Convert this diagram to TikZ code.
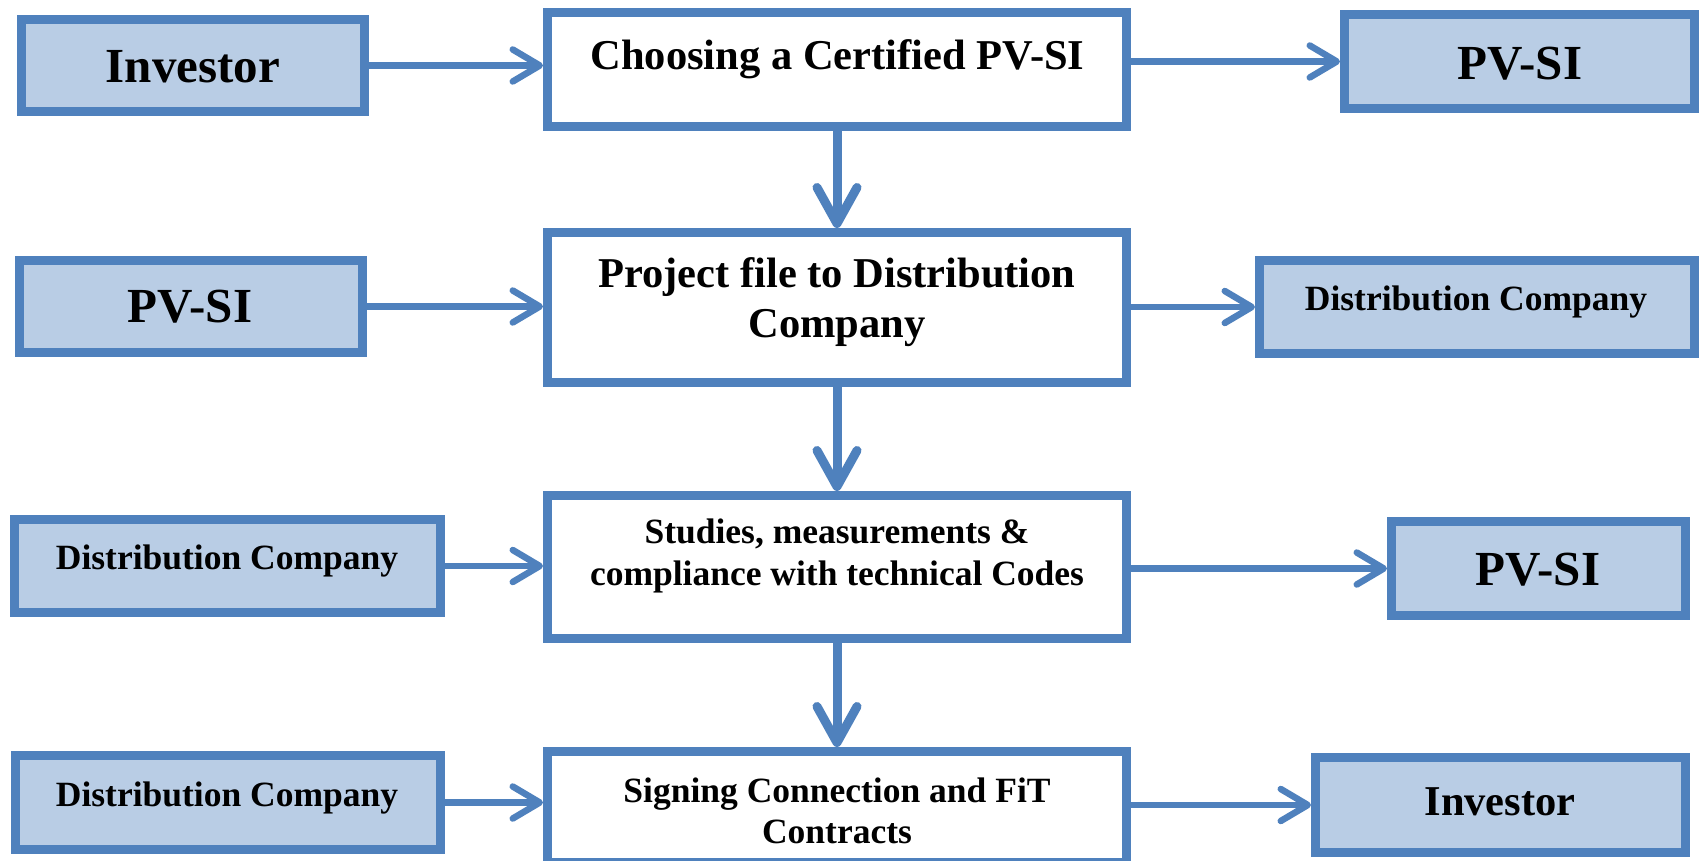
\documentclass[tikz,border=0pt]{standalone}
\usepackage{fontspec}
\setmainfont{Liberation Serif}
\usetikzlibrary{arrows.meta}
\definecolor{bord}{HTML}{4F81BD}
\definecolor{lfill}{HTML}{B9CDE5}
\begin{document}
\begin{tikzpicture}[x=1pt,y=-1pt,
  sidebox/.style={draw=bord, line width=9pt, fill=lfill, rectangle, inner sep=0pt, outer sep=4.5pt},
  midbox/.style={draw=bord, line width=9pt, fill=white, rectangle, inner sep=0pt, outer sep=4.5pt},
  bigtxt/.style={font=\fontsize{49}{55}\selectfont\bfseries, inner sep=0pt, anchor=base},
  medtxt/.style={font=\fontsize{42.5}{50}\selectfont\bfseries, inner sep=0pt, anchor=base, align=center},
  smltxt/.style={font=\fontsize{35.5}{42}\selectfont\bfseries, inner sep=0pt, anchor=base, align=center},
  harrow/.style={draw=bord, line width=6.5pt, -{Straight Barb[length=27pt, width=32pt, line cap=round, line join=round]}},
  varrow/.style={draw=bord, line width=9pt, -{Straight Barb[length=36pt, width=40pt, line cap=round, line join=round]}}
]
\useasboundingbox (0,0) rectangle (1700,861);
\fill[white] (0,0) rectangle (1700,861);

% left boxes
\node[sidebox, minimum width=343, minimum height=92] (invL) at (193,65.5) {};
\node[sidebox, minimum width=343, minimum height=92] (pvL) at (191,306.5) {};
\node[sidebox, minimum width=426, minimum height=93] (distL3) at (227.5,566) {};
\node[sidebox, minimum width=424.5, minimum height=94] (distL4) at (228,802.5) {};

% central boxes
\node[midbox, minimum width=579, minimum height=114] (c1) at (837,69.5) {};
\node[midbox, minimum width=579, minimum height=150] (c2) at (837,307.5) {};
\node[midbox, minimum width=579, minimum height=143] (c3) at (837,567) {};
\node[midbox, minimum width=579, minimum height=110.5] (c4) at (837,806.75) {};

% right boxes
\node[sidebox, minimum width=350, minimum height=94] (pvR1) at (1519.5,61.5) {};
\node[sidebox, minimum width=435, minimum height=93] (distR2) at (1477,307) {};
\node[sidebox, minimum width=294, minimum height=94] (pvR3) at (1538.5,568.5) {};
\node[sidebox, minimum width=370, minimum height=95] (invR4) at (1500.5,805) {};

% texts (base anchor = baseline of the last line)
\node[bigtxt] (invLt) at (193,83) {Investor};
\node[bigtxt] (pvLt) at (190,322) {PV-SI};
\node[smltxt] (distL3t) at (227,569) {Distribution Company};
\node[smltxt] (distL4t) at (227,806) {Distribution Company};

\node[medtxt] (c1t) at (837.5,70) {Choosing a Certified PV-SI};
\node[medtxt] (c2t) at (837,337) {Project file to Distribution\\Company};
\node[smltxt] (c3t) at (837,585) {Studies, measurements \&\\compliance with technical Codes};
\node[smltxt, font=\fontsize{35.5}{41}\selectfont\bfseries] (c4t) at (837,843) {Signing Connection and FiT\\Contracts};

\node[bigtxt] (pvR1t) at (1520,80) {PV-SI};
\node[smltxt] (distR2t) at (1476,310) {Distribution Company};
\node[bigtxt] (pvR3t) at (1538,585) {PV-SI};
\node[medtxt] (invR4t) at (1500,815) {Investor};

% horizontal arrows
\draw[harrow] (invL.east) -- (invL.east -| c1.west);
\draw[harrow] (c1.east |- pvR1.west) -- (pvR1.west);
\draw[harrow] (pvL.east) -- (pvL.east -| c2.west);
\draw[harrow] (c2.east |- distR2.west) -- (distR2.west);
\draw[harrow] (distL3.east) -- (distL3.east -| c3.west);
\draw[harrow] (c3.east |- pvR3.west) -- (pvR3.west);
\draw[harrow] (distL4.east) -- (distL4.east -| c4.west);
\draw[harrow] (c4.east |- invR4.west) -- (invR4.west);

% vertical arrows
\draw[varrow] (c1.south) -- (c2.north);
\draw[varrow] (c2.south) -- (c3.north);
\draw[varrow] (c3.south) -- (c4.north);
\end{tikzpicture}
\end{document}
